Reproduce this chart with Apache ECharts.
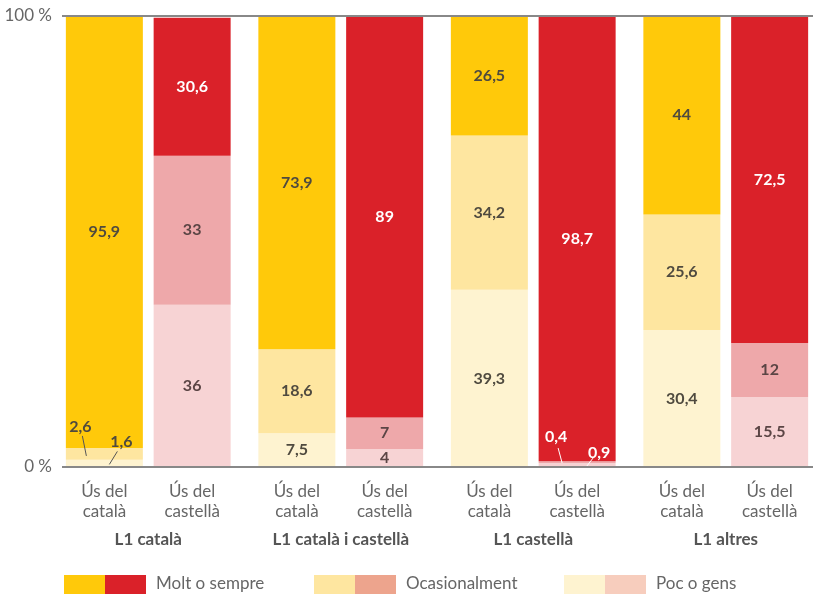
<!DOCTYPE html>
<html>
<head>
<meta charset="utf-8">
<script src="https://cdn.jsdelivr.net/npm/echarts@6/dist/echarts.min.js"></script>
<style>html,body{margin:0;padding:0;background:#fff;overflow:hidden}#c{width:830px;height:594px}</style>
</head>
<body>
<div id="c"></div>
<script>
const groups = ['L1 català', 'L1 català i castellà', 'L1 castellà', 'L1 altres'];
const barLabels = ['Ús del\ncatalà', 'Ús del\ncastellà'];
const legendNames = ['Molt o sempre', 'Ocasionalment', 'Poc o gens'];
const catMolt = [95.9, 73.9, 26.5, 44];
const catOcas = [2.6, 18.6, 34.2, 25.6];
const catPoc  = [1.6, 7.5, 39.3, 30.4];
const casMolt = [30.6, 89, 98.7, 72.5];
const casOcas = [33, 7, 0.4, 12];
const casPoc  = [36, 4, 0.9, 15.5];
const yTicks = [0, 100];

const FONT = '"Source Sans Pro", Lato, "Noto Sans", sans-serif';
const colors = {
  catMolt: '#FFC90A', catOcas: '#FEE6A0', catPoc: '#FEF3D0',
  casMolt: '#DA2129', casOcas: '#EEA8AA', casPoc: '#F7D3D4',
  legCasOcas: '#EDA48D', legCasPoc: '#F7CDBD'
};
const fmt = v => String(v).replace('.', ',');

// tiny segments: label offset [dx,dy], leader start rel. label, leader end rel. segment centre, colours
const moved = {
  catOcas: {0: {off: [-24, -27], s: [2, 9], e: [-18, 2], text: '#4f4a3f', line: '#555'}},
  catPoc:  {0: {off: [17, -22], s: [-4, 10], e: [5, 1], text: '#4f4a3f', line: '#555'}},
  casOcas: {2: {off: [-21, -25], s: [2, 11], e: [-15, 1], text: '#ffffff', line: '#fff'}},
  casPoc:  {2: {off: [22, -12], s: [-6, 5], e: [9, 2], text: '#ffffff', line: '#fff'}}
};

function seg(name, data, stack, color, textColor) {
  return {
    name: name, type: 'bar', stack: stack,
    data: data.map((v, i) => {
      const m = moved[name] && moved[name][i];
      return m ? {value: v, label: {color: m.text}} : v;
    }),
    barWidth: 77, barGap: '14%',
    itemStyle: {color: color},
    label: {
      show: true, position: 'inside', color: textColor,
      fontFamily: FONT, fontWeight: 'bold', fontSize: 16,
      formatter: p => fmt(p.value)
    },
    labelLayout: function (p) {
      const m = moved[name] && moved[name][p.dataIndex];
      if (m) return {dx: m.off[0], dy: m.off[1]};
      return {};
    },
    z: 2
  };
}

function labelSeries(stack, text) {
  return {
    name: 'lab_' + stack, type: 'bar', stack: stack,
    data: groups.map(() => 0),
    barWidth: 77, barGap: '14%',
    itemStyle: {color: 'transparent'},
    label: {
      show: true, position: 'bottom', distance: 15,
      formatter: () => text, color: '#666', fontFamily: FONT,
      fontSize: 17, lineHeight: 20
    },
    silent: true
  };
}

const chart = echarts.init(document.getElementById('c'), null, {renderer: 'canvas'});
const series = [
  labelSeries('cat', barLabels[0]),
  seg('catPoc', catPoc, 'cat', colors.catPoc, '#4f4a3f'),
  seg('catOcas', catOcas, 'cat', colors.catOcas, '#4f4a3f'),
  seg('catMolt', catMolt, 'cat', colors.catMolt, '#4f4a3f'),
  labelSeries('cas', barLabels[1]),
  seg('casPoc', casPoc, 'cas', colors.casPoc, '#5b4545'),
  seg('casOcas', casOcas, 'cas', colors.casOcas, '#5b4545'),
  seg('casMolt', casMolt, 'cas', colors.casMolt, '#ffffff')
];
chart.setOption({
  animation: false,
  grid: {left: 52, top: 16, width: 770, bottom: 127, containLabel: false},
  xAxis: {
    type: 'category', data: groups,
    axisLine: {show: false}, axisTick: {show: false},
    axisLabel: {
      margin: 64, color: '#555', fontFamily: FONT, fontWeight: 'bold', fontSize: 17
    }
  },
  yAxis: {
    type: 'value', min: yTicks[0], max: yTicks[1], interval: 100,
    splitLine: {show: false}, axisLine: {show: false}, axisTick: {show: false},
    axisLabel: {
      formatter: v => v + ' %', color: '#666', fontFamily: FONT, fontSize: 17, margin: 0
    }
  },
  series: series
});

const y0 = chart.convertToPixel({yAxisIndex: 0}, yTicks[0]);
const y1 = chart.convertToPixel({yAxisIndex: 0}, yTicks[1]);
const graphics = [
  {type: 'line', shape: {x1: 62, y1: y0, x2: 830, y2: y0}, style: {stroke: '#888', lineWidth: 2}, z: 100},
  {type: 'line', shape: {x1: 62, y1: y1, x2: 830, y2: y1}, style: {stroke: '#888', lineWidth: 2}, z: 100}
];
// leader lines for moved labels, anchored on the bar layouts computed by ECharts
const model = chart.getModel();
series.forEach((s, si) => {
  const mm = moved[s.name];
  if (!mm) return;
  const data = model.getSeriesByIndex(si).getData();
  Object.keys(mm).forEach(k => {
    const m = mm[k];
    const lay = data.getItemLayout(+k);
    const cx = lay.x + lay.width / 2, cy = lay.y + lay.height / 2;
    const lx = cx + m.off[0], ly = cy + m.off[1];
    graphics.push({type: 'line', z: 50, shape: {
      x1: lx + m.s[0], y1: ly + m.s[1], x2: cx + m.e[0], y2: cy + m.e[1]
    }, style: {stroke: m.line, lineWidth: 1}});
  });
});
const legendPairs = [
  [colors.catMolt, colors.casMolt],
  [colors.catOcas, colors.legCasOcas],
  [colors.catPoc, colors.legCasPoc]
];
legendPairs.forEach((pair, i) => {
  const x = 64 + i * 250;
  graphics.push({type: 'rect', shape: {x: x, y: 575, width: 41, height: 19}, style: {fill: pair[0]}});
  graphics.push({type: 'rect', shape: {x: x + 41, y: 575, width: 41, height: 19}, style: {fill: pair[1]}});
  graphics.push({type: 'text', x: x + 92, y: 584, style: {
    text: legendNames[i], fill: '#666', font: '17px ' + FONT, textVerticalAlign: 'middle'
  }});
});
chart.setOption({graphic: graphics});
</script>
</body>
</html>
